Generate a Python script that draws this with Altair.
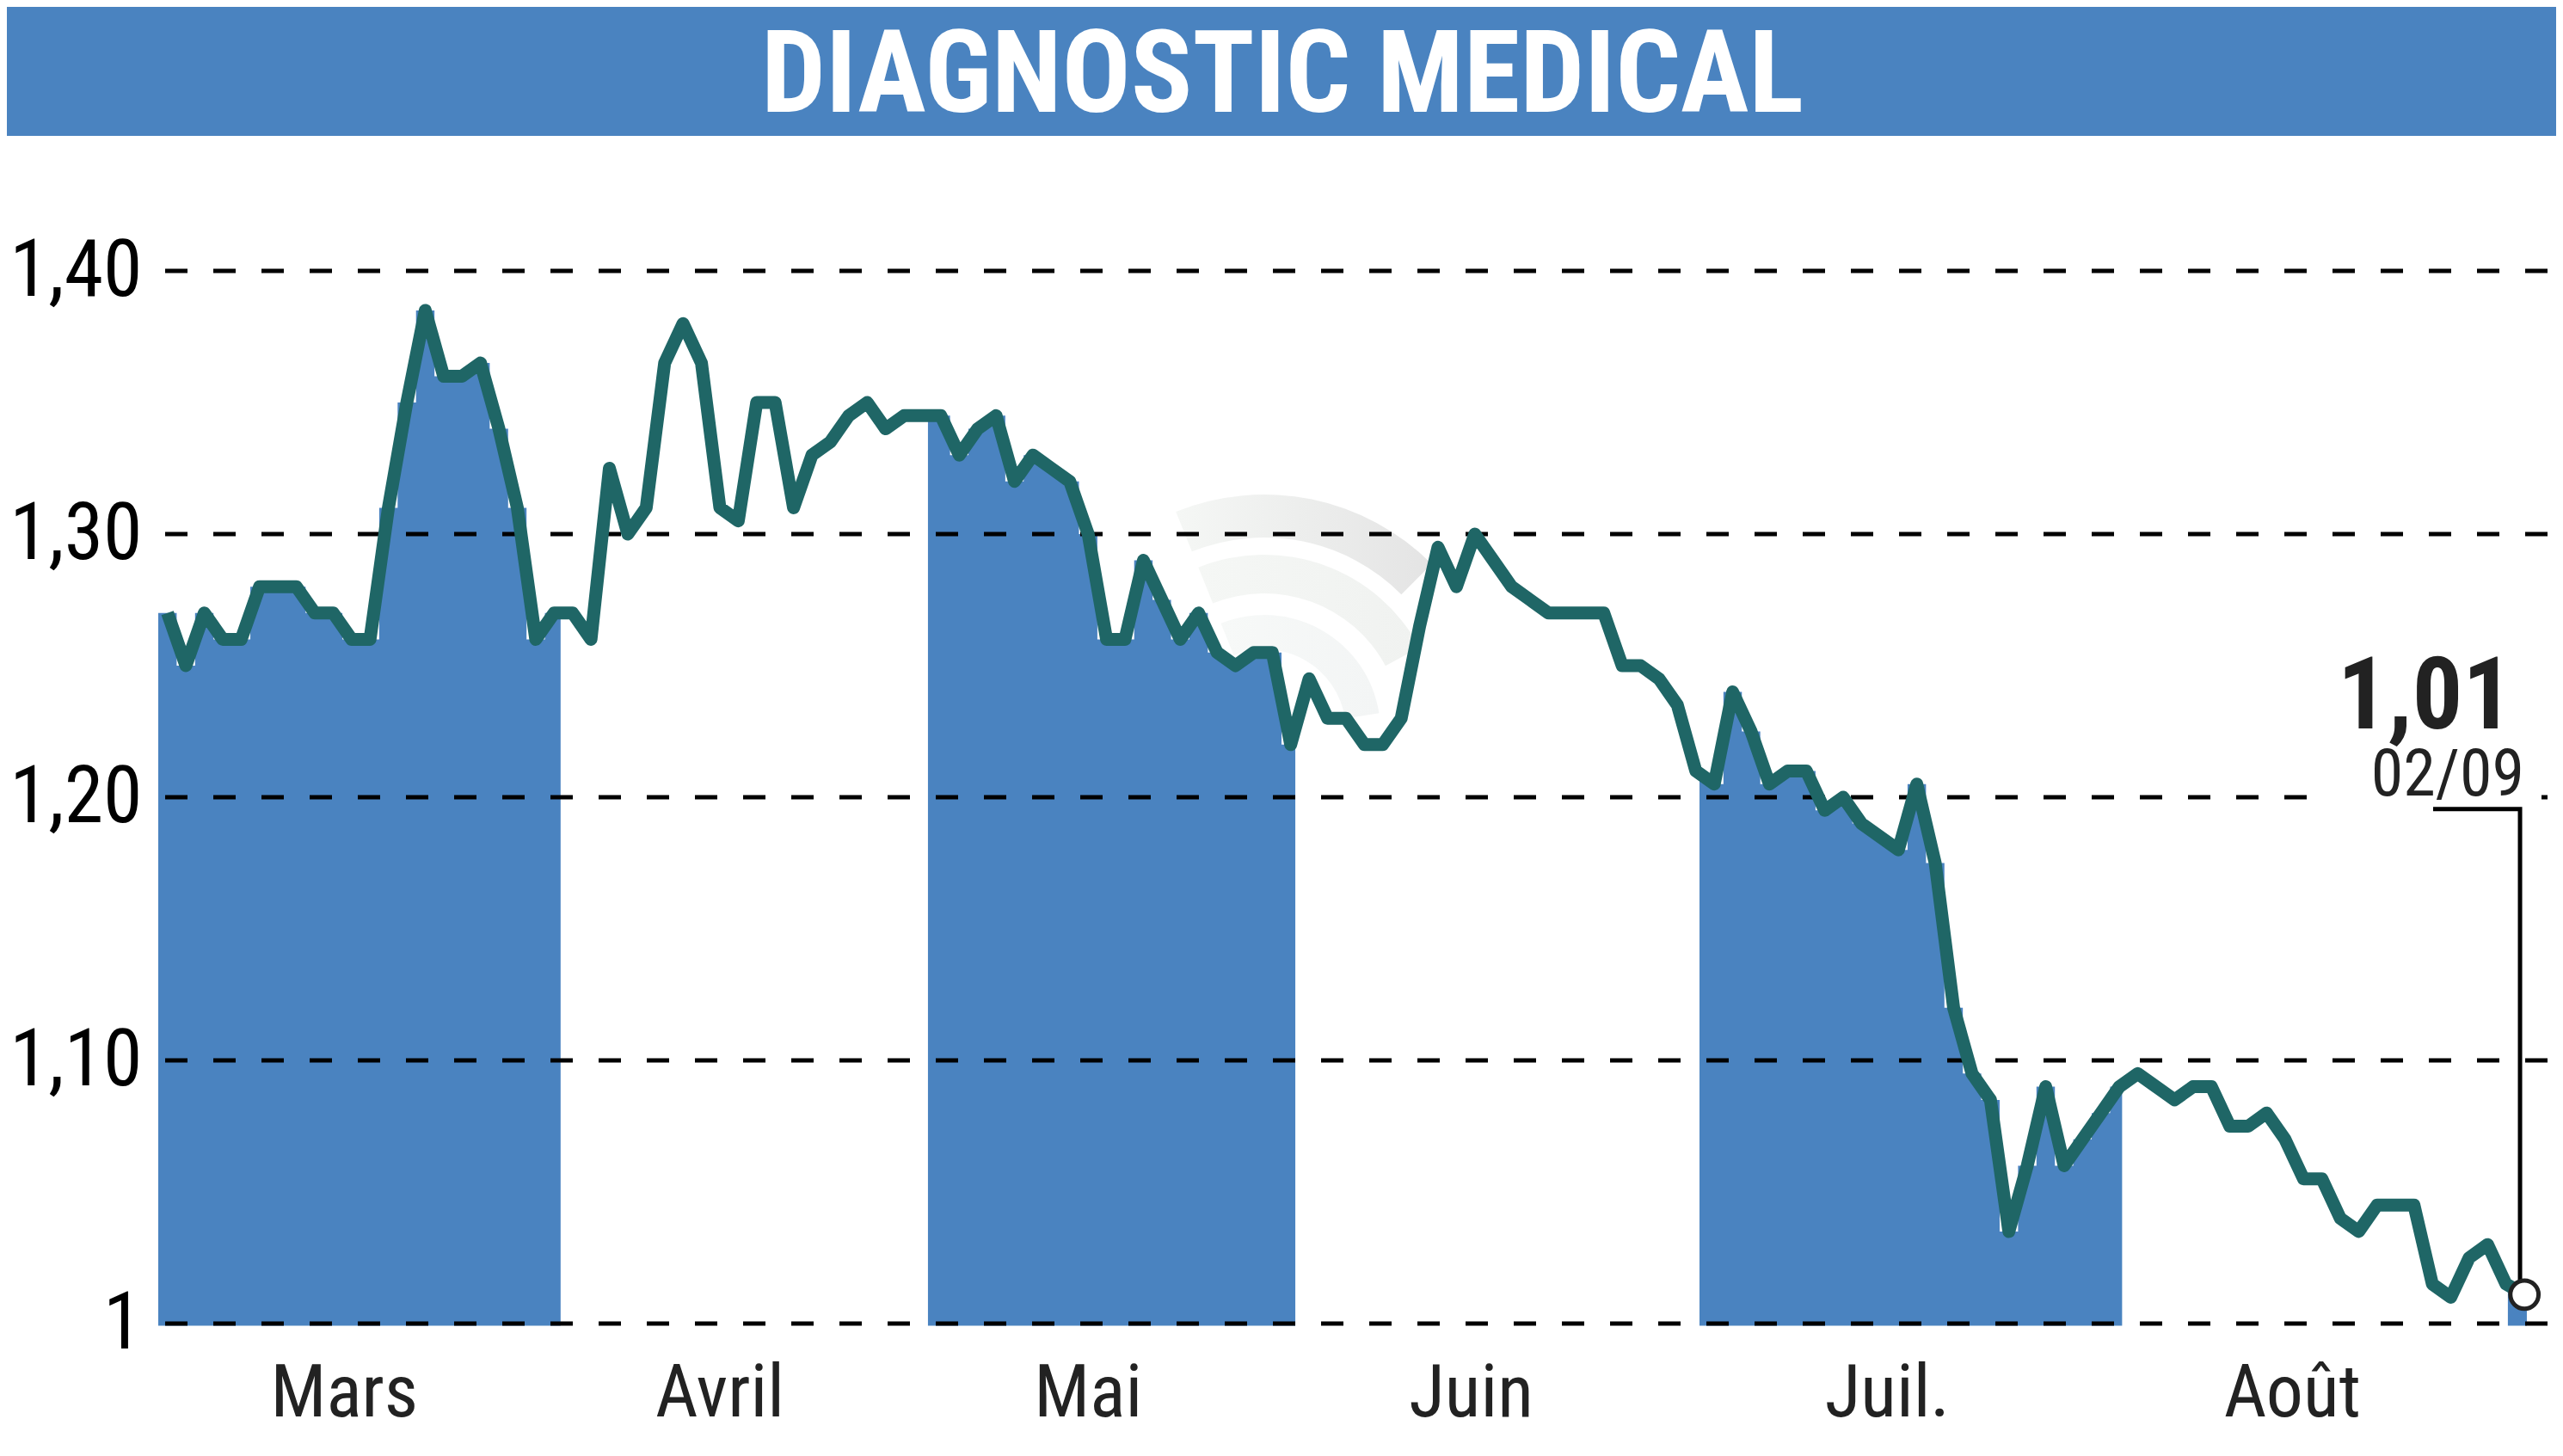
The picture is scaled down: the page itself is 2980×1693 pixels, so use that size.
# %% package import
import pandas as pd
import altair as al

# %% values
closes = [
    1.27, 1.25, 1.27, 1.26, 1.26, 1.28, 1.28, 1.28, 1.27, 1.27, 1.26, 1.26, 1.31,
    1.35, 1.385, 1.36, 1.36, 1.365, 1.34, 1.31, 1.26, 1.27, 1.27, 1.26, 1.325, 1.30,
    1.31, 1.365, 1.38, 1.365, 1.31, 1.305, 1.35, 1.35, 1.31, 1.33, 1.335, 1.345,
    1.35, 1.34, 1.345, 1.345, 1.345, 1.33, 1.34, 1.345, 1.32, 1.33, 1.325, 1.32,
    1.30, 1.26, 1.26, 1.29, 1.275, 1.26, 1.27, 1.255, 1.25, 1.255, 1.255, 1.22,
    1.245, 1.23, 1.23, 1.22, 1.22, 1.23, 1.265, 1.295, 1.28, 1.30, 1.29, 1.28,
    1.275, 1.27, 1.27, 1.27, 1.27, 1.25, 1.25, 1.245, 1.235, 1.21, 1.205, 1.24,
    1.225, 1.205, 1.21, 1.21, 1.195, 1.20, 1.19, 1.185, 1.18, 1.205, 1.175, 1.12,
    1.095, 1.085, 1.035, 1.06, 1.09, 1.06, 1.07, 1.08, 1.09, 1.095, 1.09, 1.085,
    1.09, 1.09, 1.075, 1.075, 1.08, 1.07, 1.055, 1.055, 1.04, 1.035, 1.045, 1.045,
    1.045, 1.015, 1.01, 1.025, 1.03, 1.015, 1.011,
]
y_ticks = [1.0, 1.1, 1.2, 1.3, 1.4]
month_names = ["Mars", "Avril", "Mai", "Juin", "Juil.", "Août"]
month_pos = [9.6, 30, 50, 70.8, 93.4, 115.4]
band_start = [-0.5, 41.3, 83.2, 127.1]
band_end = [21.35, 61.25, 106.15, 128.13]
leader_x = [123.04, 127.76, 127.76]
leader_y = [1.1955, 1.1955, 1.011]

BLUE = "#4a83c0"
GREEN = "#1f6666"
FONT = "'Roboto Condensed', Roboto"
W, H = 2788, 1224

# %% tables
dat = pd.DataFrame({"day": range(len(closes)), "close": closes})

rows = []
for b, (a, z) in enumerate(zip(band_start, band_end)):
    # stepped top, one step per day, cut at the month limits
    first = int(a + 0.5)
    rows.append({"band": b, "day": a, "close": closes[first], "base": 0.9992})
    for i in range(first + 1, len(closes)):
        if i - 0.5 >= z:
            break
        rows.append({"band": b, "day": i - 0.5, "close": closes[i], "base": 0.9992})
    rows.append({"band": b, "day": z, "close": rows[-1]["close"], "base": 0.9992})
bdat = pd.DataFrame(rows)

tdat = pd.DataFrame({"close": y_ticks})
mdat = pd.DataFrame({"month": month_names, "day": month_pos})
ldat = pd.DataFrame({"day": leader_x, "close": leader_y, "o": [0, 1, 2]})
one = pd.DataFrame({"a": [0]})

x_scale = al.Scale(domain=[-0.5, 129.72], nice=False, zero=False)
y_scale = al.Scale(domain=[1.0, 1.4], nice=False, zero=False, clamp=False)
y_axis = al.Axis(
    values=y_ticks,
    title=None,
    domain=False,
    ticks=False,
    grid=False,
    labelFont=FONT,
    labelFontSize=92,
    labelColor="black",
    labelPadding=19,
    labelExpr="datum.value == 1 ? '1' : replace(format(datum.value, '.2f'), '.', ',')",
)
x_enc = al.X("day:Q", scale=x_scale, axis=None)
y_enc = al.Y("close:Q", scale=y_scale, axis=y_axis)

# %% header
header = (
    al.Chart(one)
    .mark_rect(color=BLUE)
    .encode(x=al.value(-176), x2=al.value(W), y=al.value(-307), y2=al.value(-157))
)
title = (
    al.Chart(one)
    .mark_text(font=FONT, fontWeight="bold", fontSize=133, color="white", baseline="alphabetic")
    .encode(x=al.value(1307), y=al.value(-185), text=al.value("DIAGNOSTIC MEDICAL"))
)


# %% faint logo behind the curve
def logo_arc(outer, inner, end, left, right):
    fade = al.LinearGradient(
        gradient="linear",
        x1=0,
        x2=1,
        y1=0,
        y2=0,
        stops=[al.GradientStop(color=left, offset=0), al.GradientStop(color=right, offset=1)],
    )
    return (
        al.Chart(one)
        .mark_arc(radius=outer, radius2=inner, theta=5.9, theta2=end, fill=fade)
        .encode(x=al.value(1286), y=al.value(535))
    )


logo = [
    logo_arc(275, 225, 7.07, "#f5f7f5", "#e4e4e4"),
    logo_arc(205, 160, 7.36, "#f5f7f5", "#f0f2f0"),
    logo_arc(135, 95, 7.70, "#f7f9f8", "#f3f5f5"),
]

# %% bands, grid, curve
area = (
    al.Chart(bdat)
    .mark_area(color=BLUE, interpolate="step-after", orient="vertical", clip=False)
    .encode(x=x_enc, y=y_enc, y2="base:Q", detail="band:N")
)
grid = (
    al.Chart(tdat)
    .mark_rule(color="black", strokeWidth=5, strokeDash=[26, 30], strokeDashOffset=46)
    .encode(y=y_enc)
)
blank = (
    al.Chart(one)
    .mark_rect(color="white")
    .encode(x=al.value(2515), x2=al.value(2771), y=al.value(590), y2=al.value(632))
)
line = al.Chart(dat).mark_line(color=GREEN, strokeWidth=15, strokeJoin="round").encode(x=x_enc, y=y_enc)
months = (
    al.Chart(mdat)
    .mark_text(font=FONT, fontSize=86, color="#222222", baseline="alphabetic")
    .encode(x=x_enc, y=al.value(1332), text="month:N")
)

# %% last quote
leader = (
    al.Chart(ldat)
    .mark_line(color="black", strokeWidth=5, strokeJoin="miter")
    .encode(x=x_enc, y=y_enc, order="o:Q")
)
last = (
    al.Chart(dat.tail(1))
    .mark_point(filled=True, fill="white", stroke="#222222", strokeWidth=5, size=1075, opacity=1)
    .encode(x=x_enc, y=y_enc)
)
last_val = (
    al.Chart(one)
    .mark_text(font=FONT, fontWeight="bold", fontSize=116, color="#222222", align="right", baseline="alphabetic")
    .encode(x=al.value(2738), y=al.value(532), text=al.value("1,01"))
)
last_date = (
    al.Chart(one)
    .mark_text(font=FONT, fontSize=76, color="#222222", align="right", baseline="alphabetic")
    .encode(x=al.value(2751), y=al.value(610), text=al.value("02/09"))
)

chart = (
    al.layer(header, title, *logo, area, grid, blank, line, months, leader, last, last_val, last_date)
    .properties(
        width=W,
        height=H,
        padding={"left": 176, "top": 307, "right": 0, "bottom": 138},
        autosize=al.AutoSizeParams(type="none"),
        background="white",
    )
    .configure_view(strokeWidth=0)
)

chart.save("out.html", embed_options={"renderer": "svg", "actions": False})
